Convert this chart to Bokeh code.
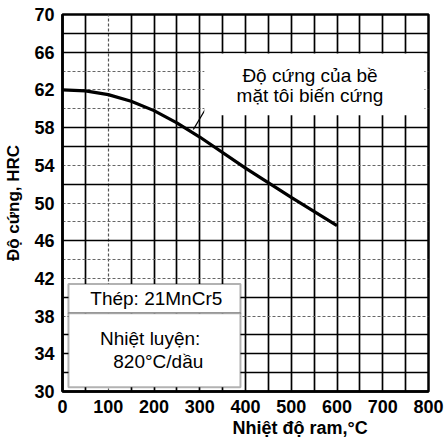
from bokeh.plotting import figure
from bokeh.models import (FixedTicker, Range1d, Grid, BoxAnnotation, Label, Title)
from bokeh.embed import file_html
from bokeh.resources import INLINE

# Tempering curve for 21MnCr5 (surface hardness after case hardening)
temper_c = [0, 50, 100, 150, 200, 250, 300, 400, 500, 600]
hardness_hrc = [62.0, 61.9, 61.5, 60.8, 59.8, 58.5, 57.0, 53.7, 50.6, 47.6]

x_ticks = [0, 100, 200, 300, 400, 500, 600, 700, 800]
y_ticks = [30, 34, 38, 42, 46, 50, 54, 58, 62, 66, 70]

FONT = "Liberation Sans"

p = figure(width=445, height=441, output_backend="svg", toolbar_location=None,
           x_range=Range1d(0, 800), y_range=Range1d(30, 70),
           min_border_left=62, min_border_right=17, min_border_top=14,
           min_border_bottom=50)
p.background_fill_color = "white"
p.border_fill_color = "white"
p.outline_line_color = "black"
p.outline_line_width = 2.5

# default grids off; custom ones below
p.xgrid.visible = False
p.ygrid.visible = False

grid_solid_x = [50, 150, 200, 250, 300, 350, 400, 450, 500, 550, 600, 650, 700, 750]
grid_light_x = [100]
grid_solid_y = [32, 34, 36, 40, 46, 52, 56, 58, 66, 68]
grid_light_y = [38, 42, 44, 48, 50, 54, 60, 62, 64]

for dim, ticks, color, width, dash in [
    (0, grid_solid_x, "black", 1.7, "solid"),
    (0, grid_light_x, "#555555", 1.2, "3 2"),
    (1, grid_solid_y, "black", 1.7, "solid"),
    (1, grid_light_y, "#666666", 1.1, "3 2"),
]:
    g = Grid(dimension=dim, ticker=FixedTicker(ticks=ticks),
             grid_line_color=color, grid_line_width=width,
             grid_line_dash=dash)
    p.add_layout(g)

for ax in (p.xaxis[0], p.yaxis[0]):
    ax.major_tick_line_color = None
    ax.minor_tick_line_color = None
    ax.major_tick_out = 0
    ax.major_tick_in = 0
    ax.axis_line_color = "black"
    ax.axis_line_width = 2.5
    ax.major_label_text_font = FONT
    ax.major_label_text_font_size = "18px"
    ax.major_label_text_font_style = "bold"
    ax.major_label_text_color = "black"

p.xaxis.ticker = FixedTicker(ticks=x_ticks)
p.yaxis.ticker = FixedTicker(ticks=y_ticks)
p.xaxis.major_label_standoff = 8
p.yaxis.major_label_standoff = 8

p.yaxis.axis_label = "Độ cứng, HRC"
p.yaxis.axis_label_text_font = FONT
p.yaxis.axis_label_text_font_size = "17px"
p.yaxis.axis_label_text_font_style = "bold"
p.yaxis.axis_label_text_color = "black"
p.yaxis.axis_label_standoff = 8

# hardness curve
p.line(temper_c, hardness_hrc, line_color="black", line_width=3.2)

# leader from the note to the curve
p.line([313, 286], [60.0, 57.8], line_color="black", line_width=1.3)

# note box (upper right)
p.add_layout(BoxAnnotation(left=310, right=791, bottom=59.3, top=65.85,
                           fill_color="white", fill_alpha=1.0,
                           line_color=None))

# material box (lower left)
p.add_layout(BoxAnnotation(left=13, right=389, bottom=38.3, top=41.4,
                           fill_color="white", fill_alpha=1.0,
                           line_color="black", line_width=2))
p.add_layout(BoxAnnotation(left=13, right=389, bottom=30.45, top=38.3,
                           fill_color="white", fill_alpha=1.0,
                           line_color="black", line_width=2))

def note(x, y, txt, align="left", size="19px", style="normal"):
    p.add_layout(Label(x=x, y=y, text=txt, text_font=FONT,
                       text_font_size=size, text_font_style=style,
                       text_color="black", text_align=align,
                       text_baseline="middle"))

note(541, 63.5, "Độ cứng của bề", align="center")
note(541, 61.4, "mặt tôi biến cứng", align="center")
note(205, 39.85, "Thép: 21MnCr5", align="center")
note(82, 35.6, "Nhiệt luyện:")
note(111, 33.2, "820°C/dầu")

# x axis title, set off to the right under the tick labels
p.add_layout(Title(text="Nhiệt độ ram,°C", align="left", offset=170,
                   standoff=0, text_font=FONT, text_font_size="18px",
                   text_font_style="bold", text_color="black"), "below")

open("out.html", "w").write(file_html(p, INLINE))
